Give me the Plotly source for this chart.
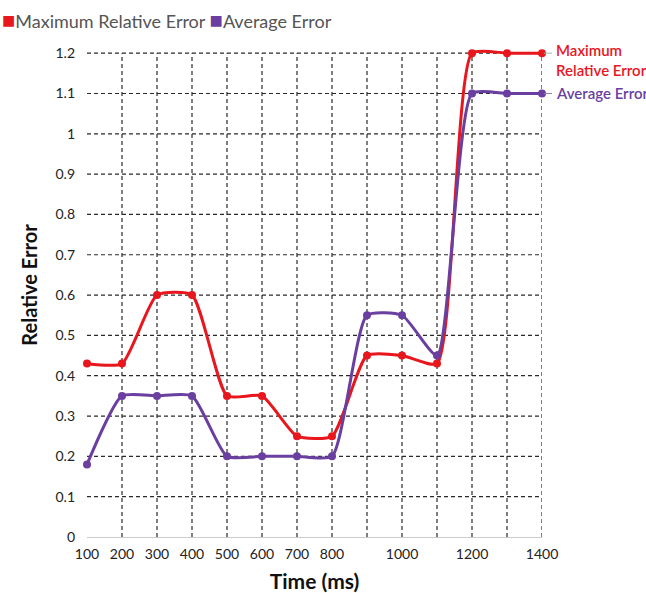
import plotly.graph_objects as go

time_ms = [100, 200, 300, 400, 500, 600, 700, 800, 900, 1000, 1100, 1200, 1300, 1400]
max_rel_error = [0.43, 0.43, 0.60, 0.60, 0.35, 0.35, 0.25, 0.25, 0.45, 0.45, 0.43, 1.20, 1.20, 1.20]
avg_error = [0.18, 0.35, 0.35, 0.35, 0.20, 0.20, 0.20, 0.20, 0.55, 0.55, 0.45, 1.10, 1.10, 1.10]
x_tick_vals = [100, 200, 300, 400, 500, 600, 700, 800, 900, 1000, 1100, 1200, 1300, 1400]
x_tick_text = ["100", "200", "300", "400", "500", "600", "700", "800", "", "1000", "", "1200", "", "1400"]
y_tick_vals = [0, 0.1, 0.2, 0.3, 0.4, 0.5, 0.6, 0.7, 0.8, 0.9, 1, 1.1, 1.2]
y_tick_text = ["0", "0.1", "0.2", "0.3", "0.4", "0.5", "0.6", "0.7", "0.8", "0.9", "1", "1.1", "1.2"]
series_names = ["Maximum Relative Error", "Average Error"]

RED = "#e8161d"
PURPLE = "#6a3fa0"
FONT = "Lato"
GRID = dict(color="#2a2a2a", width=1.2, dash="4px,3px")
Y_TOP = y_tick_vals[-1]

fig = go.Figure()

fig.add_trace(go.Scatter(x=time_ms, y=max_rel_error, mode="lines+markers", name=series_names[0],
                         line=dict(color=RED, width=3, shape="spline", smoothing=0.55),
                         marker=dict(size=8, color=RED), cliponaxis=False))
fig.add_trace(go.Scatter(x=time_ms, y=avg_error, mode="lines+markers", name=series_names[1],
                         line=dict(color=PURPLE, width=3, shape="spline", smoothing=0.55),
                         marker=dict(size=8, color=PURPLE), cliponaxis=False))

shapes = []
for v in x_tick_vals[1:]:
    shapes.append(dict(type="line", xref="x", yref="y", x0=v, x1=v, y0=0, y1=Y_TOP,
                       line=GRID, layer="below"))
for v in y_tick_vals[1:]:
    shapes.append(dict(type="line", xref="paper", yref="y", x0=0, x1=1, y0=v, y1=v,
                       line=GRID, layer="below"))
# leader lines to end labels
shapes.append(dict(type="line", xref="paper", yref="y", x0=1.004, x1=1.022, y0=max_rel_error[-1], y1=max_rel_error[-1],
                   line=dict(color="#9fb8a8", width=1)))
shapes.append(dict(type="line", xref="paper", yref="y", x0=1.004, x1=1.022, y0=avg_error[-1], y1=avg_error[-1],
                   line=dict(color="#8f7fb0", width=1)))

annotations = [
    dict(x=1.028, xref="paper", y=max_rel_error[-1], yref="y", text="Maximum<br>Relative Error",
         showarrow=False, xanchor="left", yanchor="middle", yshift=-7, align="left", borderpad=0,
         font=dict(family=FONT, size=15, color=RED, weight=600)),
    dict(x=1.028, xref="paper", y=avg_error[-1], yref="y", text="Average Error",
         showarrow=False, xanchor="left", yanchor="middle", align="left", borderpad=0,
         font=dict(family=FONT, size=15, color=PURPLE, weight=600)),
    # legend
    dict(x=0, xref="x domain", xshift=-87, y=Y_TOP, yref="y", yshift=34, yanchor="middle", xanchor="left",
         showarrow=False, align="left",
         text=(f"<span style='color:{RED};font-size:22px'>■</span>{series_names[0]} "
               f"<span style='color:{PURPLE};font-size:22px'>■</span>{series_names[1]}"),
         font=dict(family=FONT, size=18, color="#555")),
]

fig.update_layout(
    width=646, height=593,
    margin=dict(l=87, r=104, t=33, b=56, autoexpand=False),
    paper_bgcolor="white", plot_bgcolor="white",
    font=dict(family=FONT, size=14, color="#333"),
    showlegend=False,
    xaxis=dict(range=[100, 1400], tickvals=x_tick_vals, ticktext=x_tick_text,
               showgrid=False, zeroline=False, showline=True, linecolor="#ccc", linewidth=1,
               ticks="", tickfont=dict(size=14, color="#222"), ticklabelstandoff=4,
               title=dict(text="<b>Time (ms)</b>", font=dict(size=21, color="#111"), standoff=16)),
    yaxis=dict(range=[0, 1.25], tickvals=y_tick_vals, ticktext=y_tick_text,
               showgrid=False, zeroline=False, showline=False, ticks="",
               tickfont=dict(size=14, color="#222"), ticklabelstandoff=11,
               title=dict(text="<b>Relative Error</b>", font=dict(size=20, color="#111"), standoff=12)),
    shapes=shapes,
    annotations=annotations,
)

fig.write_html("out.html")
